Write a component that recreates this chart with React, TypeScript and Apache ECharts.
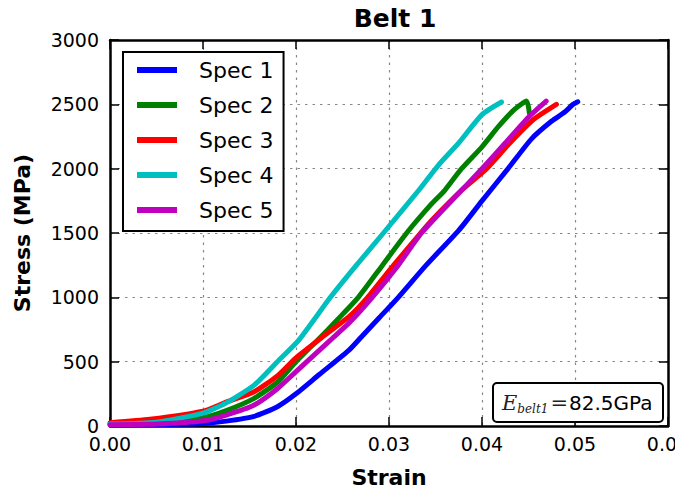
import React, { useEffect, useRef } from 'react';
import * as echarts from 'echarts';

const xTicks = [0, 0.01, 0.02, 0.03, 0.04, 0.05, 0.06];
const yTicks = [0, 500, 1000, 1500, 2000, 2500, 3000];
const seriesNames = ['Spec 1', 'Spec 2', 'Spec 3', 'Spec 4', 'Spec 5'];
const seriesColors = ['#0000ff', '#008000', '#ff0000', '#00bfbf', '#bf00bf'];

const spec1Strain = [0, 0.005, 0.01, 0.0125, 0.0155, 0.018, 0.02, 0.0225, 0.0257, 0.027, 0.029, 0.031, 0.034, 0.0375, 0.04, 0.0428, 0.0453, 0.0475, 0.0489, 0.0498, 0.0503];
const spec1Stress = [10, 12, 20, 38, 75, 150, 250, 400, 590, 690, 845, 1000, 1250, 1520, 1750, 2000, 2230, 2370, 2440, 2500, 2520];

const spec2Strain = [0, 0.005, 0.01, 0.0125, 0.0155, 0.018, 0.02, 0.0225, 0.0245, 0.0267, 0.0293, 0.0319, 0.0345, 0.036, 0.0378, 0.04, 0.0418, 0.0435, 0.0448, 0.0451];
const spec2Stress = [15, 25, 65, 120, 215, 340, 500, 680, 830, 1000, 1250, 1500, 1720, 1832, 2000, 2170, 2330, 2460, 2525, 2430];

const spec3Strain = [0, 0.0043, 0.01, 0.0125, 0.0155, 0.018, 0.02, 0.0228, 0.0257, 0.0277, 0.0305, 0.0334, 0.0346, 0.0378, 0.0405, 0.043, 0.0455, 0.048];
const spec3Stress = [25, 52, 115, 185, 266, 390, 530, 690, 850, 1000, 1250, 1500, 1600, 1832, 2000, 2200, 2380, 2500];

const spec4Strain = [0, 0.005, 0.01, 0.0125, 0.0155, 0.018, 0.0203, 0.0237, 0.0265, 0.0294, 0.0332, 0.0353, 0.0375, 0.04, 0.0421];
const spec4Stress = [15, 30, 100, 180, 318, 500, 668, 1000, 1250, 1500, 1832, 2026, 2200, 2420, 2518];

const spec5Strain = [0, 0.005, 0.01, 0.0125, 0.0155, 0.018, 0.02, 0.0237, 0.0257, 0.0282, 0.031, 0.0335, 0.0378, 0.04, 0.0425, 0.045, 0.0469];
const spec5Stress = [10, 15, 40, 85, 163, 290, 422, 668, 800, 1000, 1250, 1500, 1832, 2000, 2200, 2400, 2525];

const allStrain = [spec1Strain, spec2Strain, spec3Strain, spec4Strain, spec5Strain];
const allStress = [spec1Stress, spec2Stress, spec3Stress, spec4Stress, spec5Stress];

const FONT = 'DejaVu Sans';

export default function App() {
  const ref = useRef<HTMLDivElement>(null);
  useEffect(() => {
    document.documentElement.style.overflow = 'hidden';
    document.body.style.margin = '0';
    document.body.style.overflow = 'hidden';
    const chart = echarts.init(ref.current as HTMLDivElement, null, { renderer: 'svg', width: 675, height: 492 });
    const xMin = xTicks[0];
    const xMax = xTicks[xTicks.length - 1];
    const xInt = xTicks[1] - xTicks[0];
    const yMin = yTicks[0];
    const yMax = yTicks[yTicks.length - 1];
    const yInt = yTicks[1] - yTicks[0];
    const axisLine = { show: true, onZero: false, lineStyle: { color: '#000', width: 2.5 } };
    const axisTick = { show: true, inside: true, length: 9, lineStyle: { color: '#000', width: 1.5 } };
    const splitLine = { show: true, lineStyle: { color: '#888', width: 1.2, type: [2.5, 5] as any } };
    const series = seriesNames.map((name, i) => ({
      name,
      type: 'line',
      data: allStrain[i].map((s, j) => [s, allStress[i][j]]),
      showSymbol: false,
      symbol: 'none',
      smooth: 0.2,
      lineStyle: { color: seriesColors[i], width: 5, cap: 'round', join: 'round' },
      itemStyle: { color: seriesColors[i] },
      z: 2 + i,
    }));
    chart.setOption({
      animation: false,
      backgroundColor: '#fff',
      title: {
        text: 'Belt 1',
        left: 390,
        textAlign: 'center',
        top: 1,
        textStyle: { fontFamily: FONT, fontWeight: 'bold', fontSize: 25, color: '#000' },
      },
      grid: { left: 110, right: 7, top: 40, bottom: 66, containLabel: false, outerBoundsMode: 'none' },
      xAxis: [
        {
          type: 'value',
          min: xMin,
          max: xMax,
          interval: xInt,
          position: 'bottom',
          name: 'Strain',
          nameLocation: 'middle',
          nameGap: 40,
          nameTextStyle: { fontFamily: FONT, fontWeight: 'bold', fontSize: 22, color: '#000' },
          axisLine,
          axisTick,
          splitLine,
          axisLabel: {
            show: true,
            margin: 8,
            showMaxLabel: true,
            showMinLabel: true,
            hideOverlap: false,
            fontFamily: FONT,
            fontSize: 19,
            color: '#000',
            formatter: (v: number) => v.toFixed(2),
          },
        },
        {
          type: 'value',
          min: xMin,
          max: xMax,
          interval: xInt,
          position: 'top',
          axisLine,
          axisTick,
          splitLine: { show: false },
          axisLabel: { show: false },
        },
      ],
      yAxis: [
        {
          type: 'value',
          min: yMin,
          max: yMax,
          interval: yInt,
          position: 'left',
          name: 'Stress (MPa)',
          nameLocation: 'middle',
          nameGap: 77,
          nameTextStyle: { fontFamily: FONT, fontWeight: 'bold', fontSize: 22, color: '#000' },
          axisLine,
          axisTick,
          splitLine,
          axisLabel: {
            show: true,
            margin: 11,
            fontFamily: FONT,
            fontSize: 19,
            color: '#000',
            formatter: (v: number) => String(v),
          },
        },
        {
          type: 'value',
          min: yMin,
          max: yMax,
          interval: yInt,
          position: 'right',
          axisLine,
          axisTick,
          splitLine: { show: false },
          axisLabel: { show: false },
        },
      ],
      legend: {
        data: seriesNames,
        orient: 'vertical',
        left: 123,
        top: 52,
        backgroundColor: '#fff',
        borderColor: '#000',
        borderWidth: 2,
        borderRadius: 0,
        padding: [5, 10, 8, 14],
        icon: 'rect',
        itemWidth: 40,
        itemHeight: 6,
        itemGap: 9,
        textStyle: { fontFamily: FONT, fontSize: 22, color: '#000', lineHeight: 26, padding: [0, 0, 0, 17] },
        z: 10,
      },
      graphic: [
        {
          type: 'group',
          z: 100,
          children: [
            {
              type: 'rect',
              shape: { x: 493, y: 383, width: 170, height: 39, r: 4 },
              style: { fill: '#fff', stroke: '#000', lineWidth: 2 },
              z: 100,
            },
            {
              type: 'text',
              x: 502,
              y: 403,
              z: 101,
              style: {
                text: '{e|E}{s|belt1}{q|=}{v|82.5GPa}',
                verticalAlign: 'middle',
                rich: {
                  e: { fontFamily: 'DejaVu Serif', fontStyle: 'italic', fontSize: 21, fill: '#222' },
                  s: { fontFamily: 'DejaVu Serif', fontStyle: 'italic', fontSize: 12, fill: '#222', padding: [11, 2, 0, 0] },
                  q: { fontFamily: 'DejaVu Serif', fontSize: 21, fill: '#222', padding: [0, 1, 0, 0] },
                  v: { fontFamily: FONT, fontSize: 20, fill: '#000' },
                },
              },
            },
          ],
        },
      ],
      series,
    });
    return () => chart.dispose();
  }, []);
  return (
    <div
      ref={ref}
      style={{ position: 'fixed', left: 0, top: 0, width: 675, height: 492, background: '#fff' }}
    />
  );
}
